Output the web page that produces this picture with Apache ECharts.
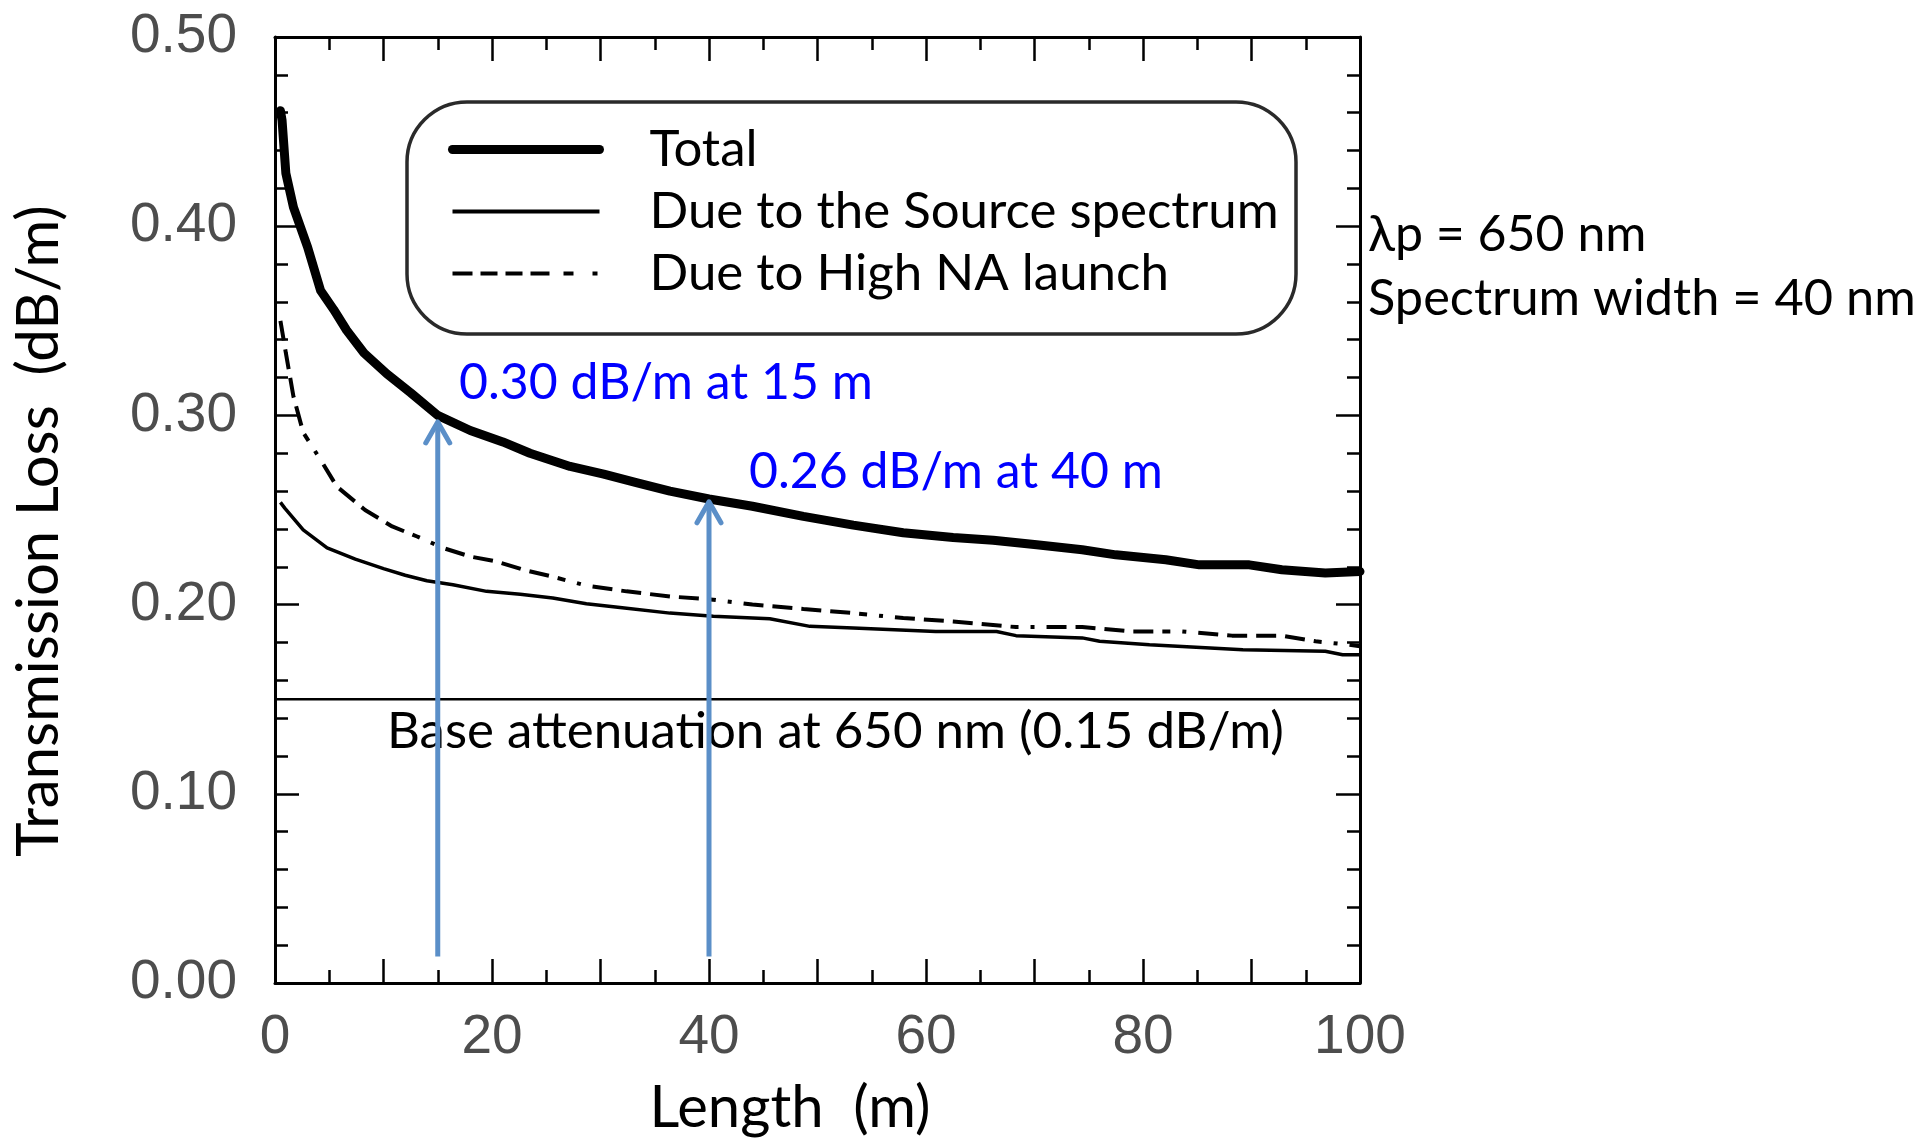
<!DOCTYPE html>
<html>
<head>
<meta charset="utf-8">
<script src="https://cdn.jsdelivr.net/npm/echarts@6/dist/echarts.min.js"></script>
<style>html,body{margin:0;padding:0;background:#fff}#chart{width:1923px;height:1138px}</style>
</head>
<body>
<div id="chart"></div>
<script>
// ---- data ----
const seriesNames = ['Total', 'Due to the Source spectrum', 'Due to High NA launch'];

const lengthTotal = [0.5, 0.65, 1.0, 1.7, 3.0, 4.2, 5.4, 6.6, 8.2, 10.3, 12.5, 15.0, 18.0, 21.0, 23.5, 27.2, 30.3, 33.3, 36.4, 40.0, 44.0, 48.7, 53.3, 57.9, 62.5, 66.2, 70.2, 74.4, 77.5, 82.1, 85.2, 89.8, 92.8, 96.8, 100];
const lossTotal   = [0.461, 0.456, 0.428, 0.410, 0.389, 0.366, 0.356, 0.345, 0.333, 0.322, 0.312, 0.300, 0.292, 0.286, 0.280, 0.273, 0.269, 0.2645, 0.260, 0.2558, 0.252, 0.2466, 0.242, 0.238, 0.2355, 0.234, 0.2316, 0.229, 0.2263, 0.2237, 0.221, 0.221, 0.2184, 0.2167, 0.2175];

const lengthSource = [0.5, 0.9, 2.6, 4.8, 7.4, 10.0, 12.0, 14.0, 16.4, 19.5, 22.6, 25.6, 28.7, 31.8, 36.4, 40.4, 45.6, 49.3, 53.3, 60.9, 66.5, 68.3, 74.4, 76.0, 80.6, 89.2, 96.8, 98.4, 100];
const lossSource   = [0.254, 0.251, 0.2395, 0.230, 0.224, 0.219, 0.2155, 0.2126, 0.2105, 0.207, 0.2055, 0.2035, 0.2005, 0.1985, 0.1955, 0.1938, 0.1925, 0.1885, 0.1876, 0.1858, 0.1858, 0.1836, 0.1824, 0.1806, 0.1788, 0.1762, 0.1753, 0.1735, 0.1735];

const lengthNA = [0.5, 1.0, 1.7, 2.6, 4.2, 5.7, 8.3, 10.8, 13.1, 15.5, 18.0, 20.4, 22.9, 25.5, 28.7, 32.4, 36.4, 40.4, 44.0, 48.7, 53.3, 57.9, 62.5, 68.3, 74.4, 79.0, 83.6, 88.2, 92.8, 95.9, 99.0, 100];
const lossNA   = [0.350, 0.333, 0.310, 0.291, 0.2765, 0.2624, 0.250, 0.2413, 0.236, 0.2299, 0.2254, 0.2228, 0.2184, 0.2149, 0.2100, 0.2070, 0.2043, 0.2026, 0.2000, 0.1977, 0.1955, 0.1929, 0.1911, 0.1881, 0.1881, 0.1858, 0.1858, 0.1836, 0.1836, 0.1806, 0.1788, 0.1780];

const baseAttenuation = 0.15;
const baseRange = [0, 100];

const arrowLength = [15, 40];
const arrowFrom   = [0.014, 0.014];
const arrowTo     = [0.2976, 0.2554];

const xTickLabels = [0, 20, 40, 60, 80, 100];
const yTickLabels = ['0.00', '0.10', '0.20', '0.30', '0.40', '0.50'];

const annotations = [
  '0.30 dB/m at 15 m',
  '0.26 dB/m at 40 m',
  'Base attenuation at 650 nm (0.15 dB/m)',
  '\u03bbp = 650 nm',
  'Spectrum width = 40 nm'
];
const xTitle = 'Length  (m)';
const yTitle = 'Transmission Loss  (dB/m)';

// ---- chart ----
const zip = (a, b) => a.map((v, i) => [v, b[i]]);
const TXT = 'Lato';
const NUM = 'Liberation Sans';
const naDash = [20, 9, 20, 9, 20, 9, 20, 9, 8, 12, 4, 12];
const legendDash = [20, 8, 17, 8, 17, 8, 19, 14, 10, 19, 5, 200];
const arrowColor = '#5b8fc8';

const tickCommon = {
  axisLine: { show: true, onZero: false, lineStyle: { color: '#000', width: 3 } },
  splitLine: { show: false },
  minorSplitLine: { show: false }
};
const xCommon = Object.assign({}, tickCommon, {
  type: 'value', min: 0, max: 100, interval: 10,
  axisTick: { show: true, inside: true, length: 24, lineStyle: { color: '#000', width: 2.5 } },
  minorTick: { show: true, splitNumber: 2, length: 13, lineStyle: { color: '#000', width: 2.5 } }
});
const yCommon = Object.assign({}, tickCommon, {
  type: 'value', min: 0, max: 0.5, interval: 0.1,
  axisTick: { show: true, inside: true, length: 24, lineStyle: { color: '#000', width: 2.5 } },
  minorTick: { show: true, splitNumber: 5, length: 13, lineStyle: { color: '#000', width: 2.5 } }
});

const chart = echarts.init(document.getElementById('chart'), null, { renderer: 'canvas' });

const option = {
  backgroundColor: '#ffffff',
  animation: false,
  grid: { left: 275, top: 37, width: 1085, height: 946, outerBoundsMode: 'none' },
  xAxis: [
    Object.assign({}, xCommon, {
      position: 'bottom',
      axisLabel: {
        show: true, margin: 27, showMinLabel: true, showMaxLabel: true,
        fontFamily: NUM, fontSize: 55, color: '#4d4d4d',
        formatter: v => (xTickLabels.indexOf(Math.round(v)) >= 0 ? String(Math.round(v)) : '')
      }
    }),
    Object.assign({}, xCommon, { position: 'top', axisLabel: { show: false } })
  ],
  yAxis: [
    Object.assign({}, yCommon, {
      position: 'left',
      axisLabel: {
        show: true, margin: 38, showMinLabel: true, showMaxLabel: true,
        fontFamily: NUM, fontSize: 55, color: '#4d4d4d',
        formatter: v => yTickLabels[Math.round(v * 10)] || ''
      }
    }),
    Object.assign({}, yCommon, { position: 'right', axisLabel: { show: false } })
  ],
  legend: {
    orient: 'vertical', left: 448, top: 124, padding: 0,
    itemWidth: 147, itemHeight: 40, itemGap: 11,
    selectedMode: false,
    itemStyle: { opacity: 0 },
    textStyle: { fontFamily: TXT, fontSize: 51, color: '#000', padding: [0, 0, 0, 45] },
    data: [
      { name: seriesNames[0], lineStyle: { width: 9, color: '#000', type: 'solid' } },
      { name: seriesNames[1], lineStyle: { width: 4, color: '#000', type: 'solid' } },
      { name: seriesNames[2], lineStyle: { width: 4, color: '#000', type: legendDash } }
    ]
  },
  series: [
    {
      name: seriesNames[0], type: 'line', data: zip(lengthTotal, lossTotal),
      symbol: 'none', itemStyle: { color: '#000' },
      lineStyle: { color: '#000', width: 9, join: 'round', cap: 'round' }, z: 4, silent: true
    },
    {
      name: seriesNames[1], type: 'line', data: zip(lengthSource, lossSource),
      symbol: 'none', itemStyle: { color: '#000' },
      lineStyle: { color: '#000', width: 3.5 }, z: 3, silent: true
    },
    {
      name: seriesNames[2], type: 'line', data: zip(lengthNA, lossNA),
      symbol: 'none', itemStyle: { color: '#000' },
      lineStyle: { color: '#000', width: 4, type: naDash }, z: 3, silent: true
    },
    {
      name: 'base', type: 'line', data: baseRange.map(x => [x, baseAttenuation]),
      symbol: 'none', lineStyle: { color: '#000', width: 2.5 }, z: 2, silent: true
    },
    {
      name: 'arrows', type: 'custom', z: 20, silent: true,
      data: arrowLength.map((x, i) => [x, arrowFrom[i], arrowTo[i]]),
      renderItem: (params, api) => {
        const p0 = api.coord([api.value(0), api.value(1)]);
        const p1 = api.coord([api.value(0), api.value(2)]);
        return {
          type: 'group', z2: 100,
          children: [
            { type: 'line', shape: { x1: p0[0], y1: p0[1], x2: p1[0], y2: p1[1] + 3 },
              style: { stroke: arrowColor, lineWidth: 5 } },
            { type: 'polyline', shape: { points: [[p1[0] - 12, p1[1] + 23], [p1[0], p1[1] + 2], [p1[0] + 12, p1[1] + 23]] },
              style: { stroke: arrowColor, lineWidth: 5, lineCap: 'round', lineJoin: 'round', fill: null } }
          ]
        };
      }
    }
  ],
  graphic: [
    { type: 'rect', z: 1, shape: { x: 407, y: 102, width: 889, height: 232, r: 60 },
      style: { fill: 'rgba(0,0,0,0)', stroke: '#2a2a2a', lineWidth: 3.5 } },
    { type: 'text', z: 1, style: { text: annotations[0], x: 459, y: 383, fill: '#0000ff', fontFamily: TXT, fontSize: 50, align: 'left', verticalAlign: 'middle' } },
    { type: 'text', z: 1, style: { text: annotations[1], x: 749, y: 472, fill: '#0000ff', fontFamily: TXT, fontSize: 50, align: 'left', verticalAlign: 'middle' } },
    { type: 'text', z: 1, style: { text: annotations[2], x: 387, y: 732, fill: '#000', fontFamily: TXT, fontSize: 51, align: 'left', verticalAlign: 'middle' } },
    { type: 'text', z: 1, style: { text: annotations[3], x: 1368, y: 235, fill: '#000', fontFamily: TXT, fontSize: 50, align: 'left', verticalAlign: 'middle' } },
    { type: 'text', z: 1, style: { text: annotations[4], x: 1368, y: 299, fill: '#000', fontFamily: TXT, fontSize: 50.5, align: 'left', verticalAlign: 'middle' } },
    { type: 'text', z: 1, style: { text: xTitle, x: 790, y: 1108, fill: '#000', fontFamily: TXT, fontSize: 58, align: 'center', verticalAlign: 'middle' } },
    { type: 'text', z: 1, x: 39, y: 531, rotation: Math.PI / 2,
      style: { text: yTitle, x: 0, y: 0, fill: '#000', fontFamily: TXT, fontSize: 58, align: 'center', verticalAlign: 'middle' } }
  ]
};
chart.setOption(option);
</script>
</body>
</html>
